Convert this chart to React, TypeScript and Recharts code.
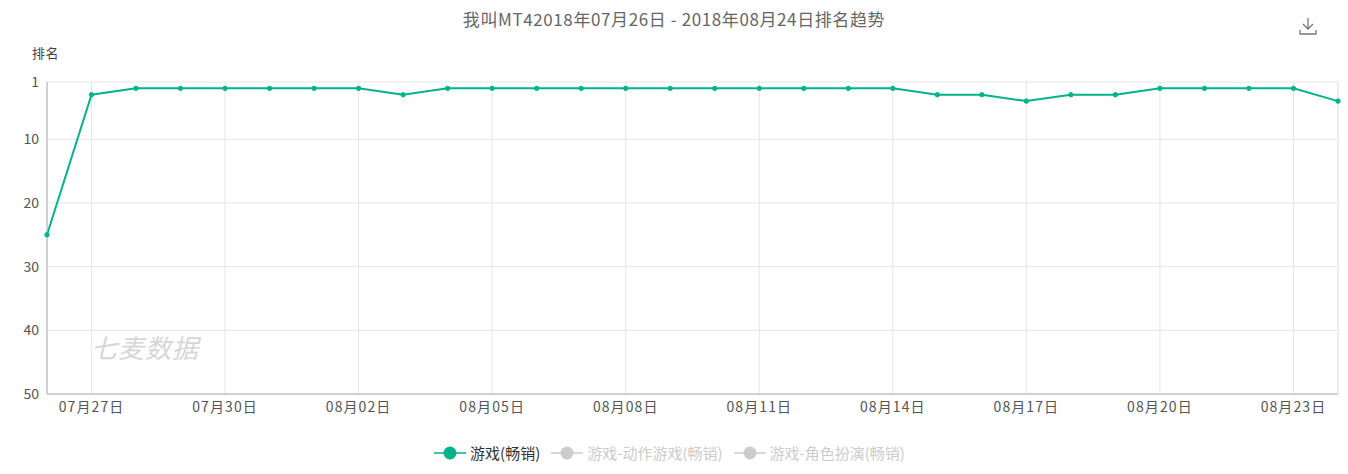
import React from "react";
import { LineChart, Line, XAxis, YAxis, CartesianGrid, ReferenceLine } from "recharts";

const dates = [
  "07月26日", "07月27日", "07月28日", "07月29日", "07月30日", "07月31日",
  "08月01日", "08月02日", "08月03日", "08月04日", "08月05日", "08月06日",
  "08月07日", "08月08日", "08月09日", "08月10日", "08月11日", "08月12日",
  "08月13日", "08月14日", "08月15日", "08月16日", "08月17日", "08月18日",
  "08月19日", "08月20日", "08月21日", "08月22日", "08月23日", "08月24日",
];
const ranks = [25, 3, 2, 2, 2, 2, 2, 2, 3, 2, 2, 2, 2, 2, 2, 2, 2, 2, 2, 2, 3, 3, 4, 3, 3, 2, 2, 2, 2, 4];
const xTicks = ["07月27日", "07月30日", "08月02日", "08月05日", "08月08日", "08月11日", "08月14日", "08月17日", "08月20日", "08月23日"];
const yTicks = [1, 10, 20, 30, 40, 50];
const legendNames = ["游戏(畅销)", "游戏-动作游戏(畅销)", "游戏-角色扮演(畅销)"];
const legendColors = ["#00b38a", "#cccccc", "#cccccc"];
const legendTextColors = ["#333333", "#cccccc", "#cccccc"];

const data = dates.map((d, i) => ({ date: d, rank: ranks[i] }));

const FONT = '"Noto Sans CJK SC", "Noto Sans", sans-serif';
const GREEN = "#00b38a";

export default function App() {
  return (
    <div style={{ position: "absolute", left: 0, top: 0, width: 1348, height: 474, background: "#fff", fontFamily: FONT }}>
      <div style={{ position: "absolute", left: 0, width: 1348, top: 7, textAlign: "center", fontSize: 17, color: "#666", lineHeight: "24px", letterSpacing: 0.6 }}>
        我叫MT42018年07月26日 - 2018年08月24日排名趋势
      </div>
      <svg style={{ position: "absolute", left: 1298, top: 16 }} width="20" height="20" viewBox="0 0 20 20">
        <path d="M10 2 V13 M5 8 L10 13 L15 8 M2 14 V18 H18 V14" stroke="#777" strokeWidth="1.3" fill="none" />
      </svg>
      <div style={{ position: "absolute", left: 32, top: 44, fontSize: 13, color: "#444", lineHeight: "18px", letterSpacing: 0.5 }}>排名</div>
      <div style={{ position: "absolute", left: 91, top: 329, fontSize: 26, color: "#d6d6d6", fontStyle: "italic", lineHeight: "36px", letterSpacing: 1 }}>七麦数据</div>
      <LineChart width={1348} height={474} data={data} margin={{ top: 82, right: 10, bottom: 50, left: 0 }} style={{ position: "absolute", left: 0, top: 0 }}>
        <CartesianGrid stroke="#e6e6e6" strokeWidth={1} />
        <XAxis
          dataKey="date"
          ticks={xTicks}
          interval={0}
          height={30}
          tickLine={false}
          axisLine={{ stroke: "#a9aebb" }}
          tick={{ fill: "#555", fontSize: 14, fontFamily: FONT, letterSpacing: 1.1 }}
        />
        <YAxis
          type="number"
          domain={[1, 50]}
          ticks={yTicks}
          reversed
          width={47}
          tickLine={false}
          axisLine={{ stroke: "#a9aebb" }}
          tick={{ fill: "#555", fontSize: 14, fontFamily: FONT }}
        />
        <ReferenceLine x="08月24日" stroke="#e6e6e6" />
        <Line
          type="linear"
          dataKey="rank"
          stroke={GREEN}
          strokeWidth={2}
          dot={{ r: 2.2, fill: GREEN, stroke: GREEN, strokeWidth: 1 }}
          activeDot={false}
          isAnimationActive={false}
        />
      </LineChart>
      <div style={{ position: "absolute", top: 443, left: 0, width: 1348, display: "flex", justifyContent: "center", fontSize: 15, lineHeight: "20px" }}>
        {legendNames.map((n, i) => (
          <div key={n} style={{ display: "flex", alignItems: "center", marginRight: 10 }}>
            <svg width="34" height="20" style={{ marginRight: 3 }}>
              <line x1="1" y1="10" x2="33" y2="10" stroke={legendColors[i]} strokeWidth="1.5" />
              <circle cx="17" cy="10" r="6.5" fill={legendColors[i]} />
            </svg>
            <span style={{ color: legendTextColors[i] }}>{n}</span>
          </div>
        ))}
      </div>
    </div>
  );
}
